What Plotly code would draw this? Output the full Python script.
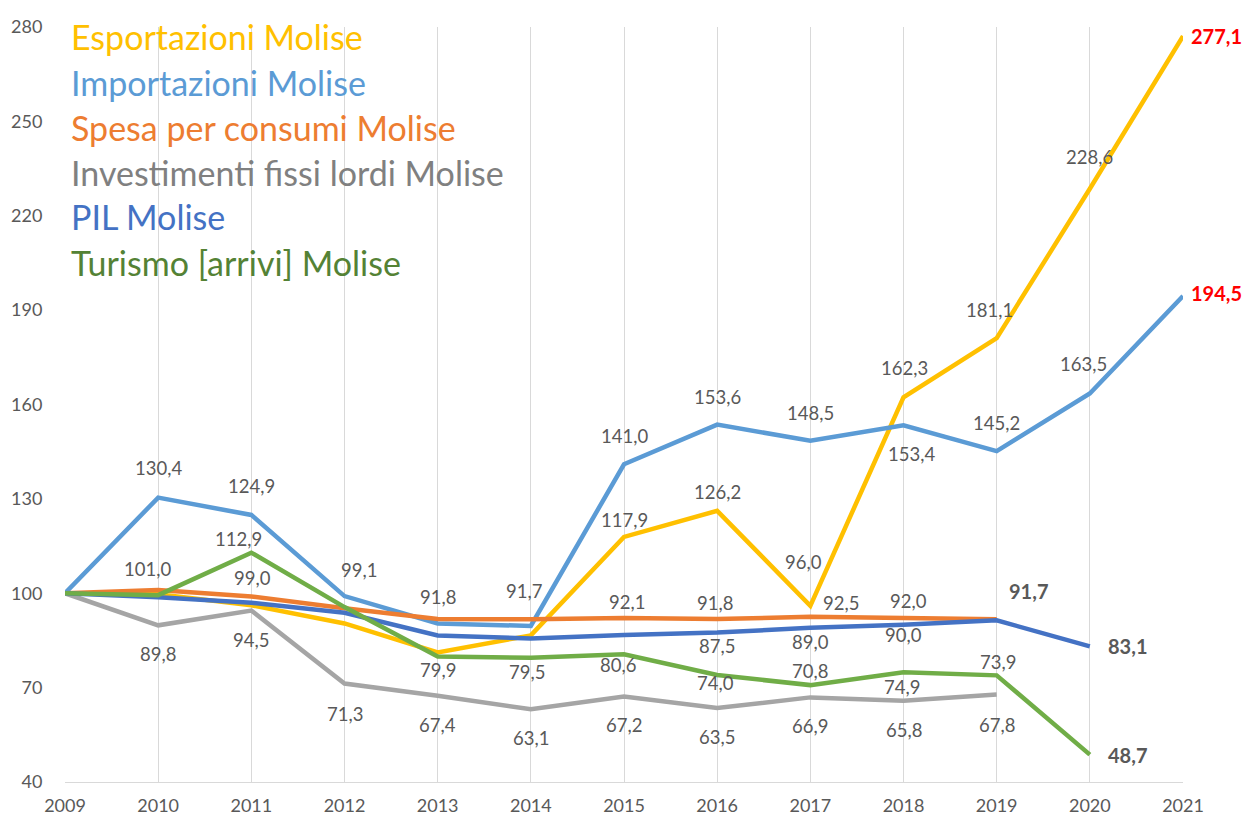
import plotly.graph_objects as go

years = list(range(2009, 2022))

esportazioni = [100.0, 99.7, 96.2, 90.4, 81.2, 86.6, 117.9, 126.2, 96.0, 162.3, 181.1, 228.6, 277.1]
importazioni = [100.0, 130.4, 124.9, 99.1, 90.4, 89.6, 141.0, 153.6, 148.5, 153.4, 145.2, 163.5, 194.5]
spesa = [100.0, 101.0, 99.0, 95.2, 91.8, 91.7, 92.1, 91.8, 92.5, 92.0, 91.7, None, None]
investimenti = [100.0, 89.8, 94.5, 71.3, 67.4, 63.1, 67.2, 63.5, 66.9, 65.8, 67.8, None, None]
pil = [100.0, 98.7, 97.0, 93.8, 86.6, 85.6, 86.7, 87.5, 89.0, 90.0, 91.4, 83.1, None]
turismo = [100.0, 99.4, 112.9, 95.6, 79.9, 79.5, 80.6, 74.0, 70.8, 74.9, 73.9, 48.7, None]

series_names = [
    "Esportazioni Molise",
    "Importazioni Molise",
    "Spesa per consumi Molise",
    "Investimenti fissi lordi Molise",
    "PIL Molise",
    "Turismo [arrivi] Molise",
]
series_values = [esportazioni, importazioni, spesa, investimenti, pil, turismo]

y_ticks = [40, 70, 100, 130, 160, 190, 220, 250, 280]

# styling (kept apart from data)
line_colors = ["#FFC000", "#5B9BD5", "#ED7D31", "#A5A5A5", "#4472C4", "#70AD47"]
legend_colors = ["#FFC000", "#5B9BD5", "#ED7D31", "#808080", "#4472C4", "#548235"]

# data-label placement: (series index, year, xshift px, yshift px, style)
label_specs = [
    (0, 2015, 0, 17, "n"), (0, 2016, 0, 19, "n"), (0, 2017, -7, 44, "n"),
    (0, 2018, 1, 29, "n"), (0, 2019, -7, 28, "n"), (0, 2020, 0, 32, "n"),
    (0, 2021, 6, 0, "red"),
    (1, 2010, 0, 30, "n"), (1, 2011, 0, 29, "n"), (1, 2012, 14, 26, "n"),
    (1, 2015, 0, 28, "n"), (1, 2016, 0, 28, "n"), (1, 2017, 0, 28, "n"),
    (1, 2018, 8, -29, "n"), (1, 2019, 0, 28, "n"), (1, 2020, -6, 29, "n"),
    (1, 2021, 6, 3, "red"),
    (2, 2010, -11, 21, "n"), (2, 2011, 1, 18, "n"), (2, 2013, 0, 22, "n"),
    (2, 2014, -7, 28, "n"), (2, 2015, 3, 16, "n"), (2, 2016, -2, 16, "n"),
    (2, 2017, 31, 14, "n"), (2, 2018, 5, 17, "n"), (2, 2019, 32, 28, "bold"),
    (3, 2010, 0, -29, "n"), (3, 2011, 0, -29, "n"), (3, 2012, 0, -30, "n"),
    (3, 2013, 0, -29, "n"), (3, 2014, 0, -29, "n"), (3, 2015, 0, -29, "n"),
    (3, 2016, 0, -29, "n"), (3, 2017, 0, -29, "n"), (3, 2018, 0, -29, "n"),
    (3, 2019, 0, -30, "n"),
    (4, 2016, 0, -13, "n"), (4, 2017, 0, -14, "n"), (4, 2018, 0, -10, "n"),
    (4, 2020, 16, 0, "bold"),
    (5, 2011, -13, 14, "n"), (5, 2013, 0, -14, "n"), (5, 2014, -4, -14, "n"),
    (5, 2015, -6, -11, "n"), (5, 2016, -2, -8, "n"), (5, 2017, 0, 14, "n"),
    (5, 2018, -2, -15, "n"), (5, 2019, 1, 13, "n"), (5, 2020, 16, 0, "bold"),
]

FONT = "Lato"
LABEL_GRAY = "#595959"

fig = go.Figure()
for name, vals, col in zip(series_names, series_values, line_colors):
    fig.add_trace(go.Scatter(
        x=years, y=vals, mode="lines", name=name,
        line=dict(color=col, width=4.5), showlegend=False,
        connectgaps=False, hoverinfo="skip",
    ))

annotations = []
for si, yr, dx, dy, style in label_specs:
    v = series_values[si][years.index(yr)]
    txt = f"{v:.1f}".replace(".", ",")
    if style == "n":
        annotations.append(dict(
            x=yr, y=v, xref="x", yref="y", text=txt, showarrow=False,
            xanchor="center", yanchor="middle", xshift=dx, yshift=dy,
            font=dict(family=FONT, size=18.5, color=LABEL_GRAY)))
    else:
        color = "#FF0000" if style == "red" else LABEL_GRAY
        anchor = "left" if dx < 30 else "center"
        annotations.append(dict(
            x=yr, y=v, xref="x", yref="y", text=f"<b>{txt}</b>", showarrow=False,
            xanchor=anchor, yanchor="middle", xshift=dx, yshift=dy,
            font=dict(family=FONT, size=20, color=color)))

# legend rendered as coloured text lines
plot_top, plot_bottom = 27, 782
legend_rows_px = [37, 82, 127, 172, 217, 262]
for name, col, ypx in zip(series_names, legend_colors, legend_rows_px):
    annotations.append(dict(
        x=(69 - 65) / (1246 - 65 - 63), y=(plot_bottom - ypx) / (plot_bottom - plot_top),
        xref="paper", yref="paper", text=name, showarrow=False,
        xanchor="left", yanchor="middle",
        font=dict(family=FONT, size=34, color=col)))

fig.update_layout(
    width=1246, height=816,
    margin=dict(l=65, r=63, t=27, b=34, autoexpand=False),
    paper_bgcolor="white", plot_bgcolor="white",
    annotations=annotations,
    font=dict(family=FONT, color=LABEL_GRAY),
)
fig.update_xaxes(
    range=[2009, 2021], tickvals=years, ticktext=[str(y) for y in years],
    showgrid=True, gridcolor="#D9D9D9", gridwidth=1,
    showline=True, linecolor="#D9D9D9", linewidth=1,
    ticks="outside", ticklen=7, tickcolor="rgba(0,0,0,0)",
    tickfont=dict(family=FONT, size=18, color=LABEL_GRAY),
    zeroline=False, automargin=False,
)
fig.update_yaxes(
    range=[40, 280], tickvals=y_ticks, ticktext=[str(t) for t in y_ticks],
    showgrid=False, showline=False, zeroline=False,
    ticks="outside", ticklen=18, tickcolor="rgba(0,0,0,0)",
    tickfont=dict(family=FONT, size=18, color=LABEL_GRAY),
    automargin=False,
)

fig.write_html(
    "out.html",
    config={"displayModeBar": False},
    post_script="document.body.style.margin='0';document.body.style.overflow='hidden';",
)
